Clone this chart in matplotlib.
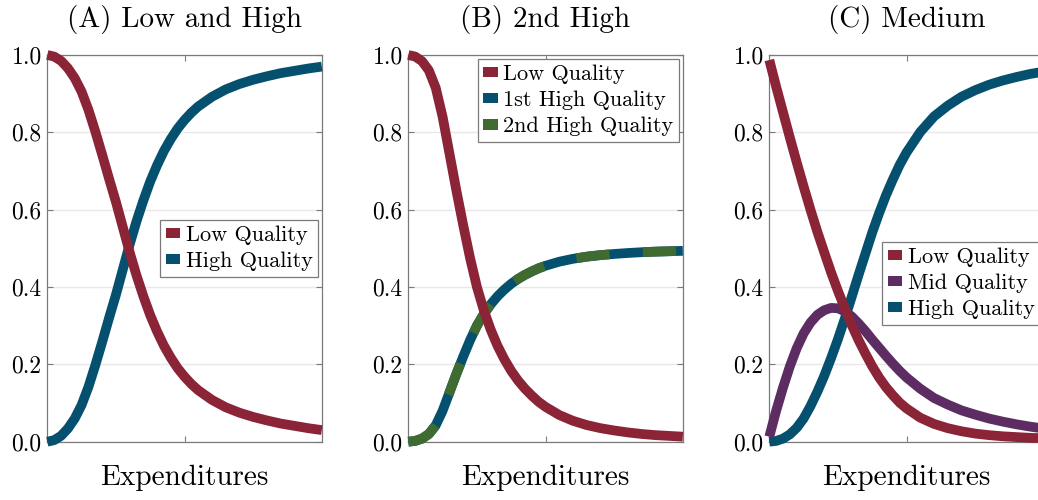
import matplotlib
matplotlib.use("Agg")
import matplotlib.pyplot as plt
from matplotlib.patches import Patch

plt.rcParams['font.family'] = ['cmr10', 'DejaVu Serif']
plt.rcParams['axes.formatter.use_mathtext'] = True
plt.rcParams['lines.scale_dashes'] = False

# ---------------- data ----------------
titles = ["(A) Low and High", "(B) 2nd High", "(C) Medium"]
xlabel = "Expenditures"
yticks = [0.0, 0.2, 0.4, 0.6, 0.8, 1.0]
ytick_labels = ["0.0", "0.2", "0.4", "0.6", "0.8", "1.0"]

# Panel A
xA = [0.0, 0.025, 0.05, 0.075, 0.10, 0.125, 0.15, 0.175, 0.20, 0.225, 0.25, 0.275, 0.30,
      0.325, 0.35, 0.375, 0.40, 0.425, 0.45, 0.475, 0.50, 0.525, 0.55, 0.60, 0.65, 0.70,
      0.75, 0.80, 0.85, 0.90, 0.95, 1.00]
lowA = [1.0, 0.996, 0.985, 0.966, 0.94, 0.905, 0.858, 0.802, 0.742, 0.68, 0.62, 0.555, 0.49,
        0.43, 0.376, 0.327, 0.285, 0.248, 0.217, 0.19, 0.168, 0.149, 0.133, 0.108, 0.089,
        0.075, 0.064, 0.055, 0.047, 0.041, 0.035, 0.030]
highA = [0.0, 0.004, 0.015, 0.034, 0.06, 0.095, 0.142, 0.198, 0.258, 0.32, 0.38, 0.445, 0.51,
         0.57, 0.624, 0.673, 0.715, 0.752, 0.783, 0.81, 0.832, 0.851, 0.867, 0.892, 0.911,
         0.925, 0.936, 0.945, 0.953, 0.959, 0.965, 0.970]

# Panel B
xB = [0.0, 0.025, 0.05, 0.075, 0.10, 0.125, 0.15, 0.175, 0.20, 0.225, 0.25, 0.275, 0.30,
      0.325, 0.35, 0.375, 0.40, 0.425, 0.45, 0.475, 0.50, 0.55, 0.60, 0.65, 0.70, 0.75,
      0.80, 0.85, 0.90, 0.95, 1.00]
lowB = [1.0, 0.996, 0.984, 0.96, 0.915, 0.84, 0.745, 0.65, 0.56, 0.475, 0.40, 0.34, 0.29,
        0.248, 0.213, 0.183, 0.158, 0.137, 0.119, 0.103, 0.09, 0.069, 0.054, 0.043, 0.035,
        0.029, 0.024, 0.020, 0.017, 0.015, 0.013]
high1B = [0.0, 0.002, 0.008, 0.02, 0.0425, 0.08, 0.1275, 0.175, 0.22, 0.2625, 0.30, 0.33,
          0.355, 0.376, 0.3935, 0.4085, 0.421, 0.4315, 0.4405, 0.4485, 0.455, 0.4655, 0.473,
          0.4785, 0.4825, 0.4855, 0.488, 0.49, 0.4915, 0.4925, 0.4935]
high2B = [0.0, 0.002, 0.008, 0.02, 0.0425, 0.08, 0.1275, 0.175, 0.22, 0.2625, 0.30, 0.33,
          0.355, 0.376, 0.3935, 0.4085, 0.421, 0.4315, 0.4405, 0.4485, 0.455, 0.4655, 0.473,
          0.4785, 0.4825, 0.4855, 0.488, 0.49, 0.4915, 0.4925, 0.4935]

# Panel C
xC = [0.0, 0.025, 0.05, 0.075, 0.10, 0.125, 0.15, 0.175, 0.20, 0.225, 0.25, 0.275, 0.30,
      0.325, 0.35, 0.375, 0.40, 0.425, 0.45, 0.475, 0.50, 0.55, 0.60, 0.65, 0.70, 0.75,
      0.80, 0.85, 0.90, 0.95, 1.00]
lowC = [0.987, 0.918, 0.852, 0.786, 0.722, 0.66, 0.60, 0.543, 0.49, 0.438, 0.39, 0.345,
        0.302, 0.263, 0.228, 0.195, 0.166, 0.141, 0.12, 0.101, 0.086, 0.062, 0.046, 0.035,
        0.027, 0.021, 0.017, 0.014, 0.012, 0.010, 0.009]
midC = [0.013, 0.08, 0.14, 0.195, 0.242, 0.28, 0.308, 0.328, 0.34, 0.346, 0.345, 0.337,
        0.324, 0.306, 0.286, 0.264, 0.243, 0.222, 0.202, 0.183, 0.166, 0.137, 0.113, 0.096,
        0.081, 0.07, 0.06, 0.052, 0.045, 0.039, 0.034]
highC = [0.0, 0.002, 0.008, 0.019, 0.036, 0.06, 0.092, 0.129, 0.17, 0.216, 0.265, 0.318,
         0.374, 0.431, 0.486, 0.541, 0.591, 0.637, 0.678, 0.716, 0.748, 0.801, 0.841, 0.869,
         0.892, 0.909, 0.923, 0.934, 0.943, 0.951, 0.957]

# ---------------- style ----------------
RED = '#8a2436'
BLUE = '#05506e'
GREEN = '#3f6b30'
PURPLE = '#5d2c63'
SPINE = '#7a7a7a'
GRID = '#e8e8e8'
LW = 7.0

W, H = 1038, 500
fig = plt.figure(figsize=(W / 100, H / 100), dpi=100)

ax_w = 274.5 / W
ax_h = 386.7 / H
ax_b = 58.3 / H
lefts = [47.3 / W, 408.3 / W, 769.3 / W]
axes = [fig.add_axes([l, ax_b, ax_w, ax_h]) for l in lefts]

for ax, t in zip(axes, titles):
    ax.set_xlim(0, 1)
    ax.set_ylim(0, 1)
    ax.set_yticks(yticks)
    ax.set_yticklabels(ytick_labels, fontsize=17)
    ax.set_xticks([0.5])
    ax.set_xticklabels([""])
    ax.tick_params(axis='both', direction='in', length=4, width=0.8, color=SPINE,
                   top=True, right=True, pad=4)
    ax.grid(axis='y', color=GRID, linewidth=1.0, zorder=0)
    ax.set_axisbelow(True)
    for s in ax.spines.values():
        s.set_color(SPINE)
        s.set_linewidth(0.9)
    ax.set_title(t, fontsize=21, pad=20)
    ax.set_xlabel(xlabel, fontsize=21)
    ax.xaxis.set_label_coords(0.5, -0.06)


def line(ax, x, y, c, **kw):
    ax.plot(x, y, color=c, lw=LW, solid_capstyle='butt', solid_joinstyle='round',
            clip_on=False, zorder=3, **kw)


def legend(ax, items, loc, anchor):
    handles = [Patch(facecolor=c, edgecolor='none', label=l) for l, c in items]
    leg = ax.legend(handles=handles, loc=loc, bbox_to_anchor=anchor, fontsize=16,
                    handlelength=0.65, handleheight=0.35, handletextpad=0.25,
                    labelspacing=0.3, borderpad=0.25, borderaxespad=0.0,
                    fancybox=False, framealpha=1.0, edgecolor=SPINE)
    leg.get_frame().set_linewidth(0.9)
    leg.set_zorder(5)


# Panel A
axA, axB, axC = axes
line(axA, xA, highA, BLUE)
line(axA, xA, lowA, RED)
legend(axA, [("Low Quality", RED), ("High Quality", BLUE)], 'center right', (0.986, 0.50))

# Panel B
line(axB, xB, high1B, BLUE)
line(axB, xB, high2B, GREEN, linestyle=(0, (24, 24)), dash_capstyle='butt',
     dash_joinstyle='round')
line(axB, xB, lowB, RED)
legend(axB, [("Low Quality", RED), ("1st High Quality", BLUE), ("2nd High Quality", GREEN)],
       'upper right', (0.986, 0.99))

# Panel C
line(axC, xC, highC, BLUE)
line(axC, xC, midC, PURPLE)
line(axC, xC, lowC, RED)
legend(axC, [("Low Quality", RED), ("Mid Quality", PURPLE), ("High Quality", BLUE)],
       'center right', (0.986, 0.41))

fig.savefig("out.png", dpi=100)
